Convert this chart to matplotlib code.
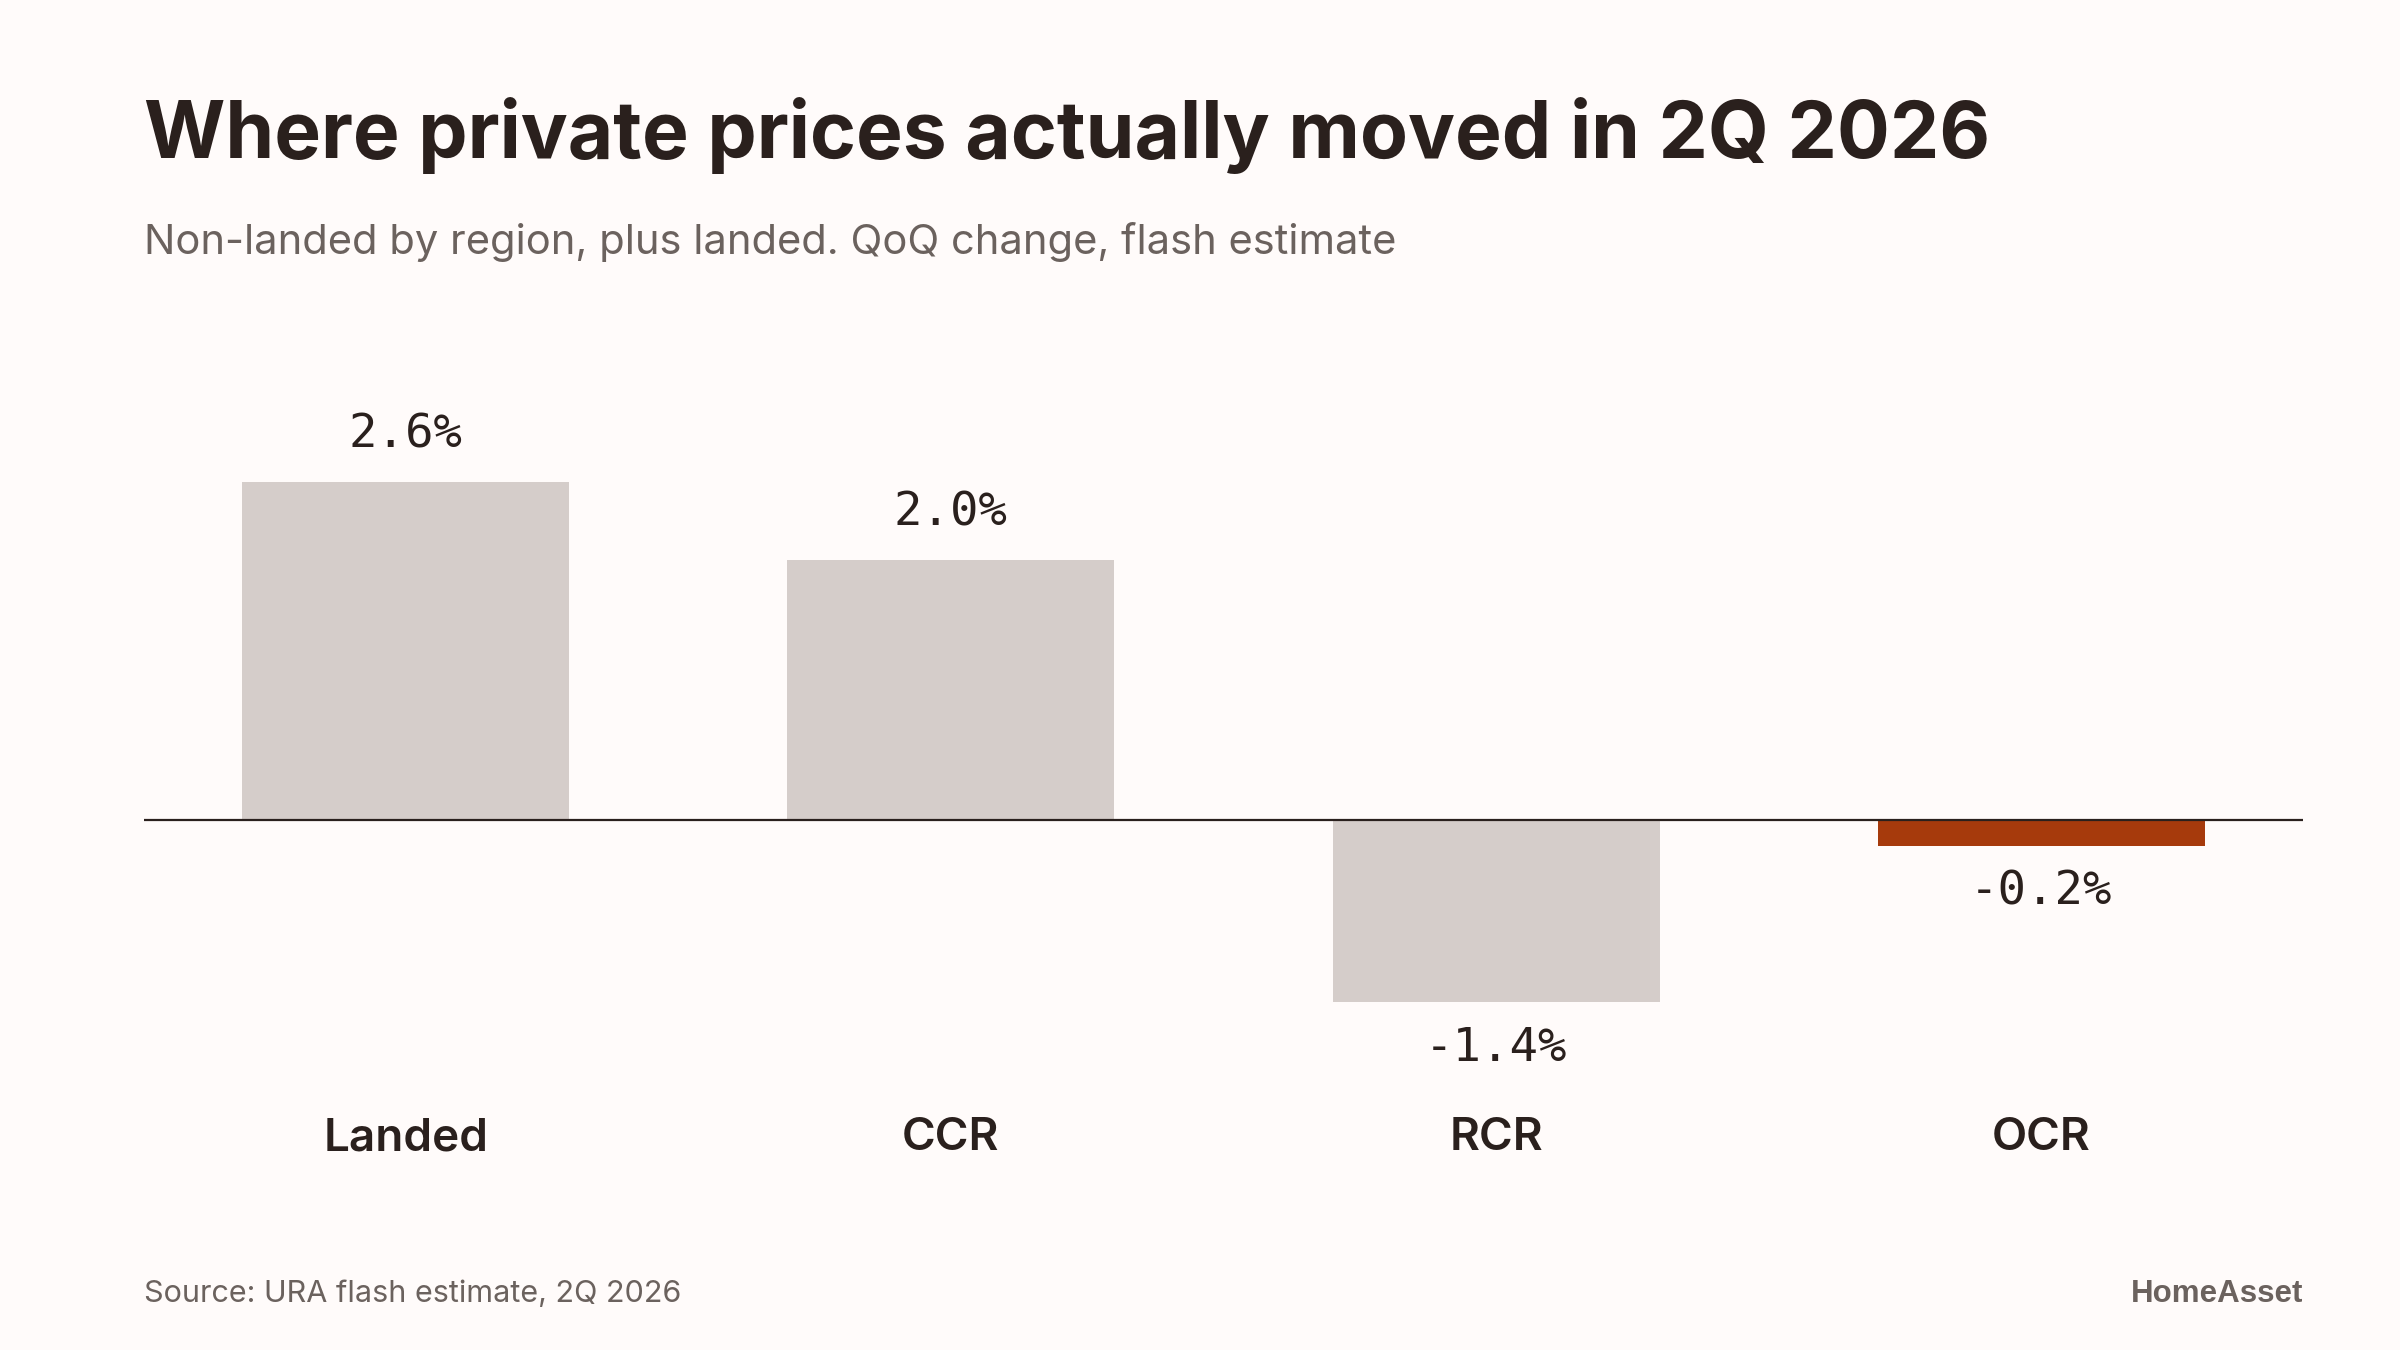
import matplotlib
matplotlib.use("Agg")
import matplotlib.pyplot as plt

# -----------------------------
# Data
# -----------------------------
categories = ["Landed", "CCR", "RCR", "OCR"]
qoq_change = [2.6, 2.0, -1.4, -0.2]
highlight = "OCR"

title = "Where private prices actually moved in 2Q 2026"
subtitle = "Non-landed by region, plus landed. QoQ change, flash estimate"
source = "Source: URA flash estimate, 2Q 2026"
brand = "HomeAsset"

# -----------------------------
# Style
# -----------------------------
BG = "#fffbfa"
INK = "#2a201d"
MUTED = "#6b625e"
BAR_GREY = "#d5cdca"
BAR_HI = "#a63a0c"

plt.rcParams["font.family"] = ["Inter", "DejaVu Sans"]

fig = plt.figure(figsize=(24, 13.5), dpi=100, facecolor=BG)
ax = fig.add_axes([144 / 2400, 0.2, (2303 - 144) / 2400, 0.5007])
ax.set_facecolor(BG)

colors = [BAR_HI if c == highlight else BAR_GREY for c in categories]
x = list(range(len(categories)))
bars = ax.bar(x, qoq_change, width=0.6, color=colors, zorder=2)

ax.axhline(0, color=INK, linewidth=1.6, zorder=3)
ax.set_xlim(-0.48, len(categories) - 1 + 0.48)
ax.set_ylim(-2.0, 3.2)

for s in ax.spines.values():
    s.set_visible(False)
ax.set_yticks([])
ax.set_xticks(x)
ax.set_xticklabels(categories, fontsize=33, fontweight="semibold", color=INK)
ax.tick_params(axis="x", length=0, pad=27)

# value labels
for rect, v in zip(bars, qoq_change):
    cx = rect.get_x() + rect.get_width() / 2
    if v >= 0:
        ax.annotate(f"{v:.1f}%", (cx, v), xytext=(0, 25), textcoords="offset points",
                    ha="center", va="baseline", fontsize=34,
                    family=["DejaVu Sans Mono"], color=INK)
    else:
        ax.annotate(f"{v:.1f}%", (cx, v), xytext=(0, -17), textcoords="offset points",
                    ha="center", va="top", fontsize=34,
                    family=["DejaVu Sans Mono"], color=INK)

# -----------------------------
# Titles and footer
# -----------------------------
fig.text(144 / 2400, 1 - 158 / 1350, title, fontsize=56.5, fontweight="bold",
         color=INK, ha="left", va="baseline")
fig.text(144 / 2400, 1 - 254 / 1350, subtitle, fontsize=30,
         color=MUTED, ha="left", va="baseline")
fig.text(144 / 2400, 1 - 1302 / 1350, source, fontsize=22,
         color=MUTED, ha="left", va="baseline")
fig.text(2303 / 2400, 1 - 1302 / 1350, brand, fontsize=22.5, fontweight="bold",
         family=["Liberation Sans", "DejaVu Sans"],
         color=MUTED, ha="right", va="baseline")

fig.savefig("out.png", dpi=100, facecolor=BG)
